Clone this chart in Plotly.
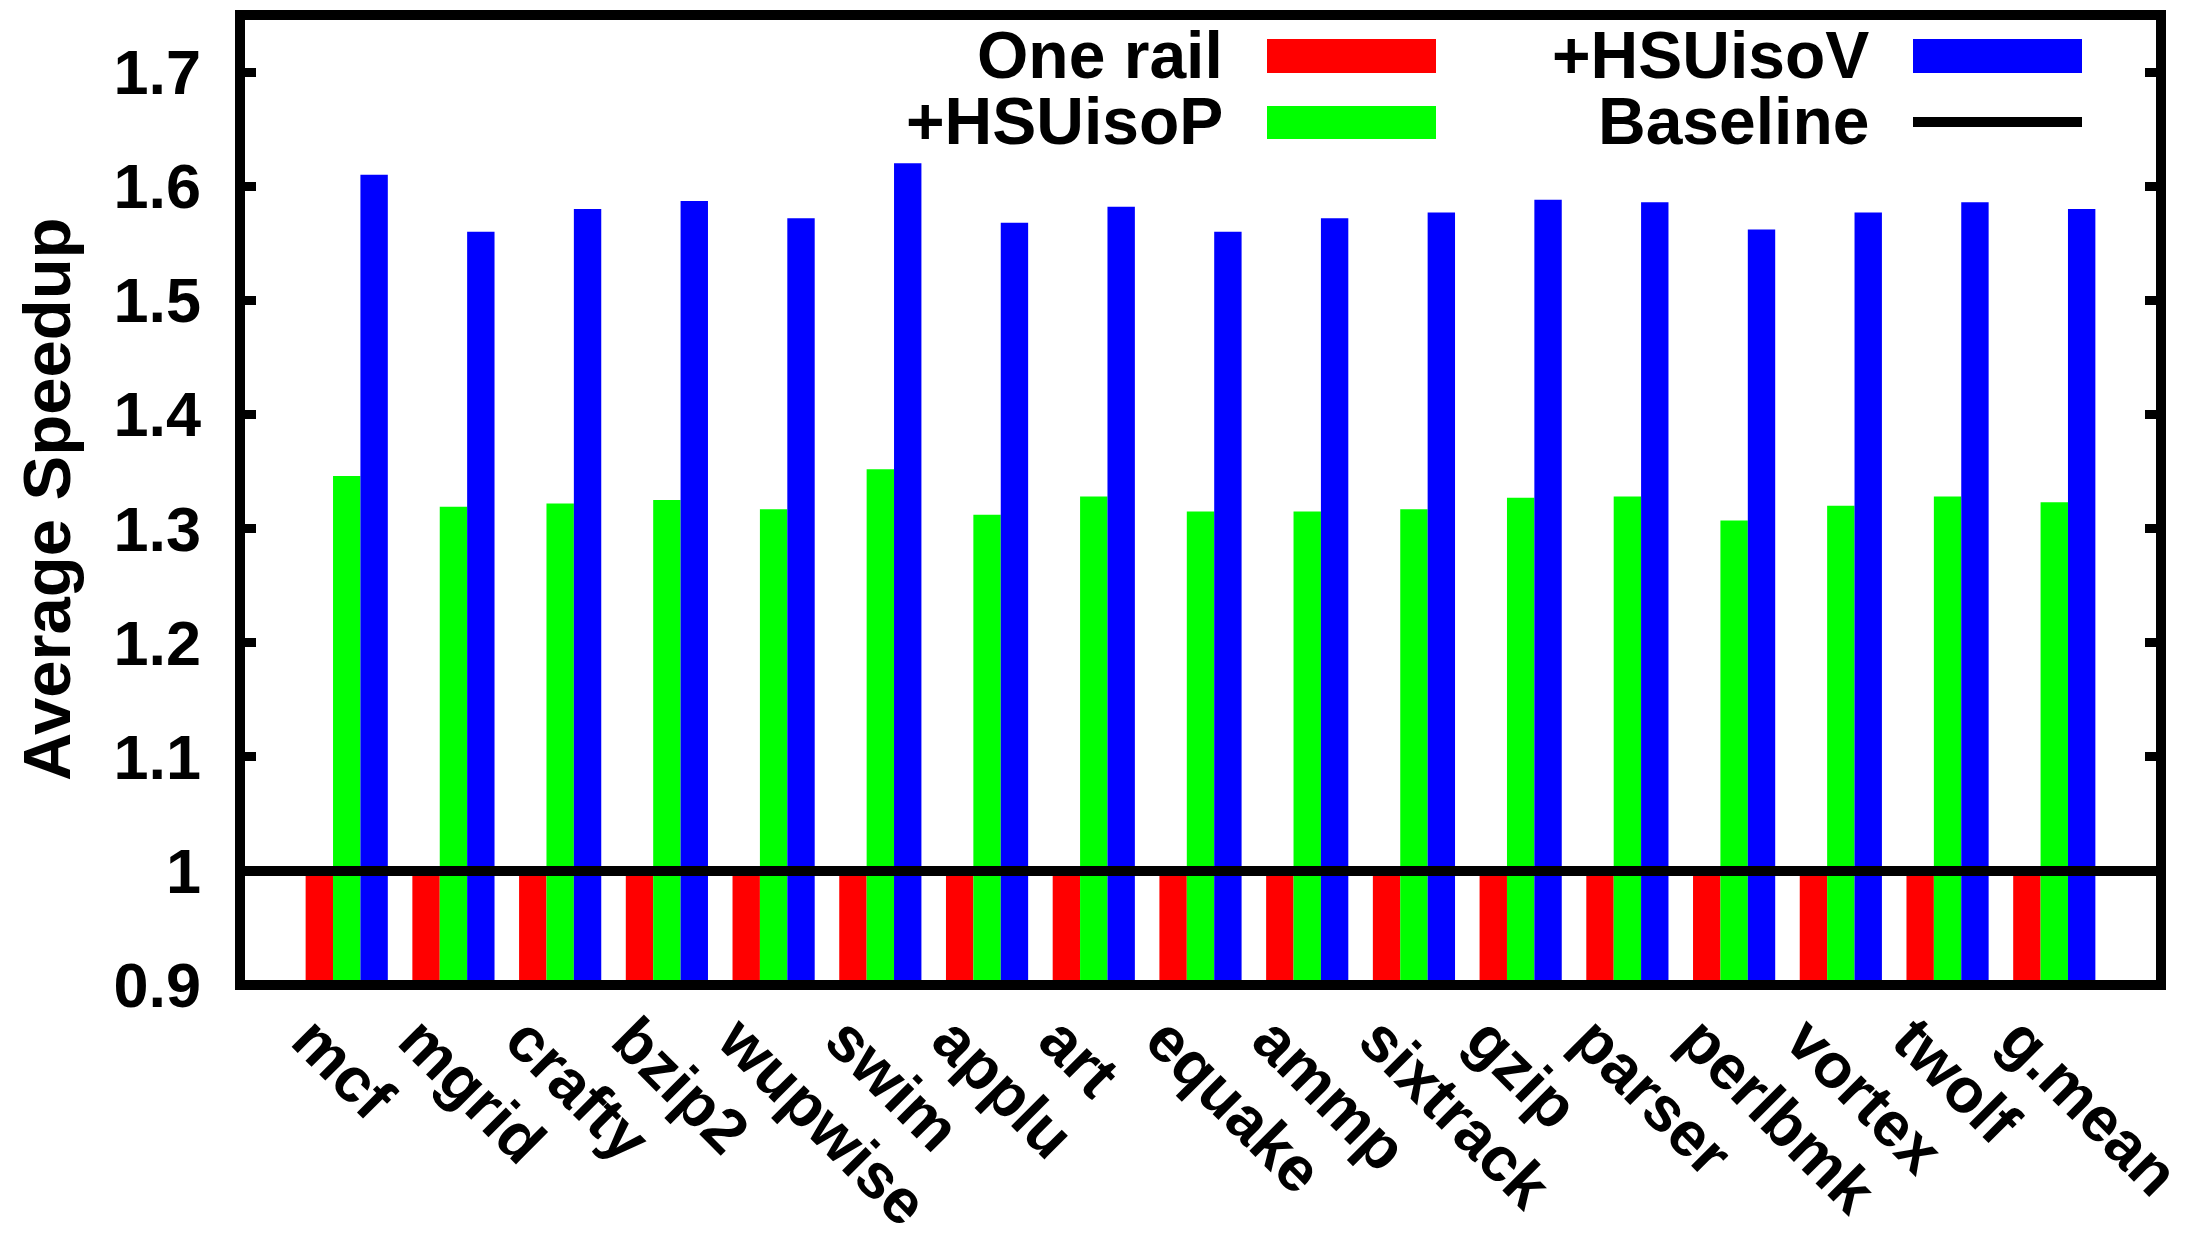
import plotly.graph_objects as go

# Benchmarks and measured speedups (normalised to the baseline design)
benchmarks = ["mcf", "mgrid", "crafty", "bzip2", "wupwise", "swim", "applu", "art",
              "equake", "ammp", "sixtrack", "gzip", "parser", "perlbmk", "vortex",
              "twolf", "g.mean"]
one_rail = [1.0, 1.0, 1.0, 1.0, 1.0, 1.0, 1.0, 1.0, 1.0,
            1.0, 1.0, 1.0, 1.0, 1.0, 1.0, 1.0, 1.0]
hsu_isop = [1.346, 1.319, 1.322, 1.325, 1.317, 1.352, 1.312, 1.328, 1.315,
            1.315, 1.317, 1.327, 1.328, 1.307, 1.320, 1.328, 1.323]
hsu_isov = [1.610, 1.560, 1.580, 1.587, 1.572, 1.620, 1.568, 1.582, 1.560,
            1.572, 1.577, 1.588, 1.586, 1.562, 1.577, 1.586, 1.580]
baseline = 1.0

y_ticks = [0.9, 1.0, 1.1, 1.2, 1.3, 1.4, 1.5, 1.6, 1.7]
y_tick_text = ["0.9", "1", "1.1", "1.2", "1.3", "1.4", "1.5", "1.6", "1.7"]

series = [
    ("One rail", one_rail, "#ff0000"),
    ("+HSUisoP", hsu_isop, "#00ff00"),
    ("+HSUisoV", hsu_isov, "#0000ff"),
]

W, H = 2204, 1233
L, R, T, B = 240, 43, 15, 248
PW, PH = W - L - R, H - T - B

FONT = "Liberation Sans, Arial, Helvetica, sans-serif"

xpos = list(range(len(benchmarks)))

fig = go.Figure()
for name, vals, col in series:
    fig.add_trace(go.Bar(x=xpos, y=vals, name=name, marker=dict(color=col, line=dict(width=0)),
                         showlegend=False))


def px(xp):
    return (xp - L) / PW


def py(yp):
    return (H - B - yp) / PH


shapes = [
    # baseline across the full plot width
    dict(type="line", xref="paper", x0=0, x1=1, yref="y", y0=baseline, y1=baseline,
         line=dict(color="black", width=10), layer="above"),
    # plot frame
    dict(type="rect", xref="paper", yref="paper", x0=0, x1=1, y0=0, y1=1,
         line=dict(color="black", width=10), layer="above"),
]

annotations = []
# key: text right-aligned, sample to its right, two columns
key_entries = [
    ("One rail", 1225, 55, "box", "#ff0000", (1267, 1436, 39, 73)),
    ("+HSUisoP", 1225, 121, "box", "#00ff00", (1267, 1436, 106, 139)),
    ("+HSUisoV", 1871, 55, "box", "#0000ff", (1913, 2082, 39, 73)),
    ("Baseline", 1871, 121, "line", "black", (1913, 2082, 122, 122)),
]
for text, tx, ty, kind, col, (x0, x1, y0, y1) in key_entries:
    annotations.append(dict(text=text, xref="paper", yref="paper", x=px(tx), y=py(ty),
                            xanchor="right", yanchor="middle", showarrow=False,
                            font=dict(family=FONT, size=66, color="black", weight="bold")))
    if kind == "box":
        shapes.append(dict(type="rect", xref="paper", yref="paper",
                           x0=px(x0), x1=px(x1), y0=py(y1), y1=py(y0),
                           fillcolor=col, line=dict(width=0), layer="above"))
    else:
        shapes.append(dict(type="line", xref="paper", yref="paper",
                           x0=px(x0), x1=px(x1), y0=py(y0), y1=py(y0),
                           line=dict(color=col, width=10), layer="above"))

annotations.append(dict(text="Average Speedup", xref="paper", yref="paper", x=0, y=0.5,
                        xshift=46 - L, xanchor="center", yanchor="middle", textangle=-90,
                        showarrow=False,
                        font=dict(family=FONT, size=67, color="black", weight="bold")))

fig.update_layout(
    width=W, height=H,
    margin=dict(l=L, r=R, t=T, b=B, pad=0, autoexpand=False),
    plot_bgcolor="white", paper_bgcolor="white",
    barmode="group", bargap=0.23, bargroupgap=0,
    shapes=shapes, annotations=annotations,
    showlegend=False,
    font=dict(family=FONT, color="black"),
)
fig.update_xaxes(
    range=[-1, 17], tickvals=xpos, ticktext=benchmarks, tickangle=45,
    ticks="", showgrid=False, zeroline=False, showline=False, automargin=False,
    ticklabeloverflow="allow", ticklabelshift=-36, ticklabelstandoff=4,
    tickfont=dict(family=FONT, size=63, color="black", weight="bold"),
)
fig.update_yaxes(
    range=[0.9, 1.75], tickvals=y_ticks, ticktext=y_tick_text,
    ticks="inside", ticklen=16, tickwidth=9, tickcolor="black", mirror="ticks",
    showgrid=False, zeroline=False, showline=False, automargin=False,
    ticklabelstandoff=38,
    tickfont=dict(family=FONT, size=63, color="black", weight="bold"),
)

fig.write_html("out.html")
